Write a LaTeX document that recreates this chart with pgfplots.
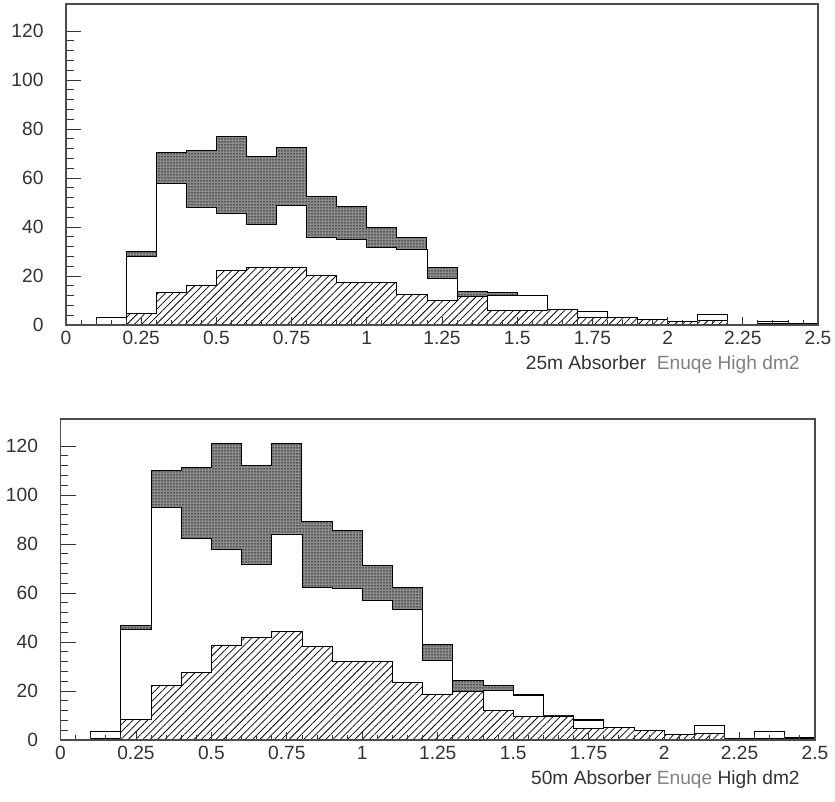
\documentclass[border=0pt]{standalone}
\usepackage{pgfplots}
\pgfplotsset{compat=1.18}
\usepackage{pgfplotstable}
\usepackage{fontspec}
\setmainfont{Liberation Sans}
\usetikzlibrary{patterns,patterns.meta}

\pgfplotstableread{
x   top   mid   hat
0.0 0     0     0
0.1 3.0   3.0   0.3
0.2 29.8  28.0  4.7
0.3 70.5  57.9  13.1
0.4 71.1  48.1  16.3
0.5 77.0  45.7  22.1
0.6 68.8  40.9  23.3
0.7 72.5  49.0  23.7
0.8 52.4  35.6  20.2
0.9 48.4  34.8  17.2
1.0 39.7  31.8  17.2
1.1 35.9  30.8  12.6
1.2 23.3  19.2  10.2
1.3 13.8  11.8  11.6
1.4 13.3  12.2  5.8
1.5 12.2  12.2  6.1
1.6 6.3   6.3   6.3
1.7 5.4   5.4   3.1
1.8 3.1   3.1   3.1
1.9 2.3   2.3   2.3
2.0 1.4   1.4   1.4
2.1 4.3   4.3   2.0
2.2 0.3   0.3   0.3
2.3 1.4   1.4   0.5
2.4 0.8   0.8   0.3
2.5 0.8   0.8   0.3
}\topdata

\pgfplotstableread{
x   top   mid   hat
0.0 0     0     0
0.1 3.4   3.4   0.5
0.2 46.7  45.2  8.4
0.3 109.8 94.8  22.2
0.4 111.3 82.3  27.6
0.5 121.1 77.8  38.8
0.6 112.2 71.8  41.9
0.7 120.8 84.1  44.2
0.8 89.1  62.3  38.1
0.9 85.7  61.9  32.0
1.0 71.4  57.1  32.0
1.1 62.3  53.1  23.4
1.2 39.1  32.4  18.8
1.3 24.2  19.7  19.7
1.4 22.4  20.4  12.0
1.5 18.4  18.0  9.8
1.6 10.2  10.2  9.8
1.7 8.2   7.8   4.8
1.8 5.2   5.2   5.2
1.9 3.8   3.8   3.8
2.0 2.4   2.4   2.4
2.1 6.1   6.1   2.7
2.2 0.7   0.7   0.7
2.3 3.4   3.4   0.7
2.4 1.0   1.0   0.5
2.5 1.0   1.0   0.5
}\botdata

\pgfplotsset{
  panel/.style={
    scale only axis, width=451.2pt, height=192.6pt,
    xmin=0, xmax=2.5, ymin=0, ymax=131,
    axis on top, clip=false,
    xtick={0,0.25,0.5,0.75,1,1.25,1.5,1.75,2,2.25,2.5},
    xticklabels={0,0.25,0.5,0.75,1,1.25,1.5,1.75,2,2.25,2.5},
    minor x tick num=4,
    ytick={0,20,40,60,80,100,120}, minor y tick num=4,
    tick align=inside, xtick pos=bottom, ytick pos=left,
    major tick length=9pt, minor tick length=4.5pt,
    xtick style={/pgfplots/major tick length=5pt,/pgfplots/minor tick length=3pt},
    axis line style={black!70, line width=0.7pt},
    tick style={black!80, line width=0.5pt},
    ticklabel style={font=\fontsize{11.5}{13}\selectfont, text=black!80},
    /pgf/number format/assume math mode=true,
    yticklabel style={xshift=-10pt},
  },
  topfill/.style={const plot, draw=black, line width=0.6pt, fill=black!45,
    postaction={pattern={Dots[distance=1.8pt, radius=0.45pt]}, pattern color=black!90}},
  midfill/.style={const plot, draw=black, line width=0.5pt, fill=white},
  hatfill/.style={const plot, draw=black, line width=0.5pt, fill=white,
    postaction={pattern={Lines[angle=45, distance=3.1pt, line width=0.45pt]}, pattern color=black}},
}

\begin{document}
\begin{tikzpicture}
\begin{axis}[panel, name=top, at={(0,0)}, anchor=south west]
  \addplot[topfill] table[x=x, y=top] {\topdata} \closedcycle;
  \addplot[midfill] table[x=x, y=mid] {\topdata} \closedcycle;
  \addplot[hatfill] table[x=x, y=hat] {\topdata} \closedcycle;
\end{axis}
\node[anchor=north east, inner sep=0pt, font=\fontsize{11.5}{13}\selectfont, text=black!80]
  at ([xshift=-10.8pt, yshift=-18pt]top.south east)
  {25m Absorber\ \ \textcolor{black!50}{Enuqe High dm2}};

\begin{axis}[panel, name=bot, at={(-3.3pt,-249pt)}, anchor=south west, width=452.7pt]
  \addplot[topfill] table[x=x, y=top] {\botdata} \closedcycle;
  \addplot[midfill] table[x=x, y=mid] {\botdata} \closedcycle;
  \addplot[hatfill] table[x=x, y=hat] {\botdata} \closedcycle;
\end{axis}
\node[anchor=north east, inner sep=0pt, font=\fontsize{11.5}{13}\selectfont, text=black!80]
  at ([xshift=-9pt, yshift=-18pt]bot.south east)
  {50m Absorber \textcolor{black!50}{Enuqe} High dm2};

\pgfresetboundingbox
\path (-39.6pt,195pt) rectangle (461.4pt,-286.2pt);
\end{tikzpicture}
\end{document}
